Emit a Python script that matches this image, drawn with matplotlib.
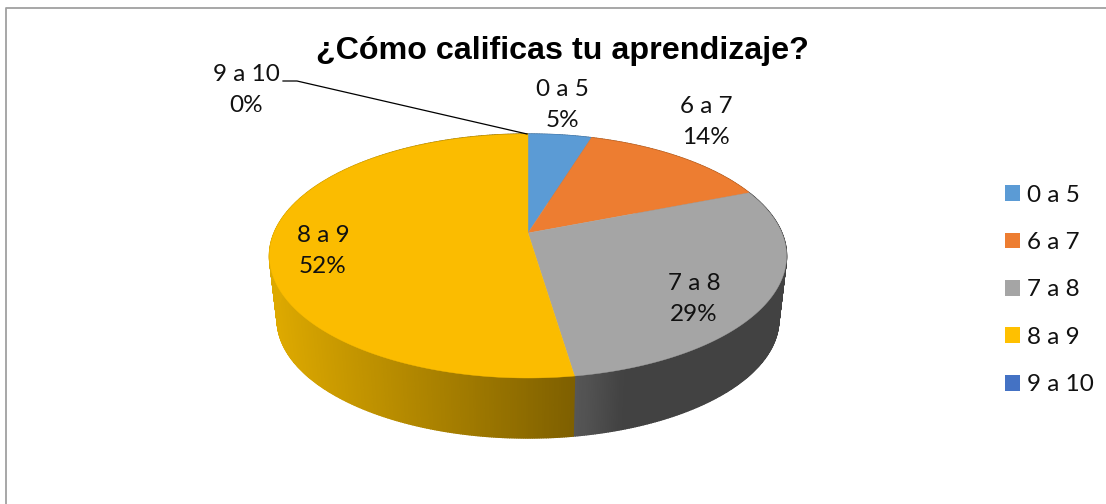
import numpy as np
import matplotlib
matplotlib.use('Agg')
import matplotlib.pyplot as plt
from matplotlib.patches import Patch

# respuestas por rango
categories = ['0 a 5', '6 a 7', '7 a 8', '8 a 9', '9 a 10']
counts = [1, 3, 6, 11, 0]
percent_labels = ['5%', '14%', '29%', '52%', '0%']
colors = ['#5B9BD5', '#ED7D31', '#A5A5A5', '#FFC000', '#4472C4']
top_colors = ['#5B9BD5', '#ED7D31', '#A5A5A5', '#FBBC00', '#4472C4']
# color del lateral: extremo izquierdo y derecho en pantalla
side_left = ['#3F6F9C', '#A9581F', '#585858', '#DDA900', '#30528E']
side_right = ['#3F6F9C', '#A9581F', '#424242', '#7F6000', '#30528E']
label_pos = [(562, 105), (706, 122), (694, 299), (323, 251), (246, 90)]

plt.rcParams['font.family'] = ['Lato', 'DejaVu Sans']

# perspectiva del disco
hub_x, hub_y = 528, 233
k = 46 / 244
a = 117.66
R = 253.9
depth = 64.4
shrink = 0.97


def project(theta):
    x, y = np.sin(theta), np.cos(theta)
    w = 1 + k * y
    return R * x / w, a * y / w


def top_edge(theta):
    px, py = project(theta)
    return hub_x + px, hub_y - py


def bottom_edge(theta):
    px, py = project(theta)
    return hub_x + shrink * px, hub_y + depth - shrink * py


def hex_rgb(c):
    return np.array(matplotlib.colors.to_rgb(c))


fig = plt.figure(figsize=(11.06, 5.04), dpi=100)
ax = fig.add_axes([0, 0, 1, 1])
ax.set_xlim(0, 1106)
ax.set_ylim(504, 0)
ax.axis('off')

# marco, solo arriba e izquierda se ven
ax.plot([5.5, 5.5, 1106], [504, 8, 8], color='#A0A0A0', lw=1.3)

fractions = np.array(counts) / sum(counts)
edges = np.concatenate([[0], np.cumsum(fractions)]) * 2 * np.pi

# laterales
for i in range(len(categories)):
    if counts[i] == 0:
        continue
    th = np.linspace(edges[i], edges[i + 1], max(3, int(counts[i] * 40)))
    xt, yt = top_edge(th)
    xb, yb = bottom_edge(th)
    x_lo, x_hi = 273, 573 if i == 3 else 786
    if i == 2:
        x_lo, x_hi = 573, 625
    for j in range(len(th) - 1):
        t = np.clip((xt[j] - x_lo) / (x_hi - x_lo), 0, 1)
        c = hex_rgb(side_left[i]) * (1 - t) + hex_rgb(side_right[i]) * t
        ax.fill([xt[j], xt[j + 1], xb[j + 1], xb[j]],
                [yt[j], yt[j + 1], yb[j + 1], yb[j]],
                color=c, lw=1.0, zorder=2)

# cara superior
for i in range(len(categories)):
    if counts[i] == 0:
        continue
    th = np.linspace(edges[i], edges[i + 1], 200)
    xt, yt = top_edge(th)
    ax.fill(np.r_[hub_x, xt], np.r_[hub_y, yt], color=top_colors[i], lw=0.3, zorder=3)

# linea guia de 9 a 10
ax.plot([283, 297, 527], [81, 81, 134], color='black', lw=0.9, zorder=4)

for i in range(len(categories)):
    ax.text(label_pos[i][0], label_pos[i][1], categories[i] + '\n' + percent_labels[i],
            ha='center', va='center', fontsize=17.5, linespacing=1.6, color='#111111', zorder=5)

ax.text(562, 51, '¿Cómo calificas tu aprendizaje?', ha='center', va='center',
        fontsize=23.2, fontweight='bold', family='Liberation Sans', color='black')

handles = [Patch(facecolor=c, edgecolor='none') for c in colors]
ax.legend(handles, categories, loc='center left', bbox_to_anchor=(1005 / 1106, 1 - 290 / 504),
          bbox_transform=fig.transFigure, frameon=False, fontsize=17.5, labelcolor='#111111',
          handlelength=0.617, handleheight=0.617, handletextpad=0.29, labelspacing=1.086,
          borderpad=0, borderaxespad=0)

fig.savefig('out.png', dpi=100)
